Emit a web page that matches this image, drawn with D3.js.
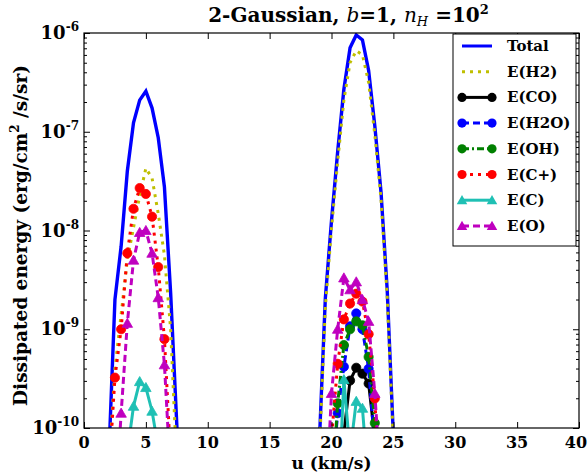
<!DOCTYPE html>
<html>
<head>
<meta charset="utf-8">
<script src="https://cdn.jsdelivr.net/npm/d3@7"></script>
<style>
  body { margin: 0; background: #fff; }
  svg text { font-family: "DejaVu Serif", serif; font-weight: bold; fill: #000; }
</style>
</head>
<body>
<div id="graphicContainer"></div>
<script>

// u grid (km/s) around the two velocity components
const uLeft  = [1.5, 2, 2.5, 3, 3.5, 4, 4.5, 5, 5.5, 6, 6.5, 7, 7.5, 8, 8.5]
const uRight = [18, 18.5, 19, 19.5, 20, 20.5, 21, 21.5, 22, 22.5, 23, 23.5, 24, 24.5, 25, 25.5, 26]

// log10 of dissipated energy (erg/cm2/s/sr)
const totalLeft  = [-12, -10.31, -8.70, -8.16, -7.40, -6.91, -6.68, -6.59, -6.76, -7.06, -7.56, -8.63, -9.97, -11.5, -13]
const totalRight = [-13, -12, -10.2, -8.69, -7.90, -7.20, -6.57, -6.15, -6.02, -6.07, -6.38, -6.94, -7.61, -8.60, -10.08, -12, -13]

const h2Left  = [-12, -10.4, -9.4, -8.85, -8.3, -7.97, -7.65, -7.37, -7.47, -7.83, -8.25, -9.0, -10.4, -12, -13.5]
const h2Right = [-13.5, -12, -10.3, -8.78, -7.98, -7.3, -6.68, -6.3, -6.18, -6.22, -6.5, -7.03, -7.68, -8.67, -10.15, -12, -13.5]

const coRight  = [-16, -15, -14, -13, -12.2, -11.5, -10.05, -9.52, -9.39, -9.45, -9.55, -10.1, -11.2, -12.3, -13.4, -14.5, -15.5]
const h2oRight = [-15, -14, -13, -12, -10.6, -9.85, -9.38, -8.97, -8.84, -9.0, -9.4, -10.2, -11.5, -12.5, -13.5, -14.5, -15.5]
const ohRight  = [-15, -14, -13, -12, -10.7, -9.75, -9.16, -9.0, -8.92, -8.96, -9.28, -9.95, -11, -12, -13, -14, -15]

const cplusLeft  = [-12, -10.5, -9.49, -9.0, -8.23, -7.78, -7.57, -7.63, -7.86, -8.37, -9.10, -10.3, -11.5, -12.5, -13.5]
const cplusRight = [-15, -14, -13, -11, -10.1, -9.35, -8.9, -8.74, -8.64, -8.72, -9.05, -9.7, -11, -12, -13, -14, -15]

const cLeft  = [-14, -13.5, -13, -12, -10.25, -9.78, -9.53, -9.59, -9.83, -10.2, -11, -12, -13, -14, -15]
const cRight = [-16, -15, -14, -13, -12, -10.9, -9.51, -10.25, -9.73, -9.8, -10.6, -11.5, -12.5, -13.5, -14.5, -15.5, -16]

const oLeft  = [-13, -12, -10.9, -9.85, -8.94, -8.30, -8.02, -8.0, -8.23, -8.68, -9.36, -10.5, -11.6, -12.6, -13.6]
const oRight = [-15, -14, -13, -10.9, -9.65, -9.0, -8.48, -8.6, -8.52, -8.7, -8.92, -9.65, -10.6, -11.6, -12.6, -13.6, -14.6]

const xTicks = [0, 5, 10, 15, 20, 25, 30, 35, 40]
const yDecades = [-10, -9, -8, -7, -6]

const series = [
  { name: "Total",  left: totalLeft, right: totalRight, color: "#0000ff", dash: null,      marker: null },
  { name: "E(H2)",  left: h2Left,    right: h2Right,    color: "#bfbf00", dash: "3,5",     marker: null },
  { name: "E(CO)",  left: null,      right: coRight,    color: "#000000", dash: null,      marker: "circle" },
  { name: "E(H2O)", left: null,      right: h2oRight,   color: "#0000ff", dash: "7,4",     marker: "circle" },
  { name: "E(OH)",  left: null,      right: ohRight,    color: "#008000", dash: "7,3,2,3", marker: "circle" },
  { name: "E(C+)",  left: cplusLeft, right: cplusRight, color: "#ff0000", dash: "3,5",     marker: "circle" },
  { name: "E(C)",   left: cLeft,     right: cRight,     color: "#1fc0b4", dash: null,      marker: "triangle" },
  { name: "E(O)",   left: oLeft,     right: oRight,     color: "#bf00bf", dash: "7,4",     marker: "triangle" }
]

const width = 588, height = 474
const margin = { left: 84, right: 9, top: 33, bottom: 46 }

const svg = d3.select("#graphicContainer")
  .append("svg")
  .attr("width", width)
  .attr("height", height)

const x = d3.scaleLinear().domain([0, 40]).range([margin.left, width - margin.right])
const y = d3.scaleLog().domain([1e-10, 1e-6]).range([height - margin.bottom, margin.top])

svg.append("defs").append("clipPath").attr("id", "plotClip")
  .append("rect")
  .attr("x", x(0)).attr("y", y(1e-6))
  .attr("width", x(40) - x(0)).attr("height", y(1e-10) - y(1e-6))

const plot = svg.append("g").attr("clip-path", "url(#plotClip)")

const line = d3.line().x(d => x(d.u)).y(d => y(d.v))

const triangle = d3.symbol().type(d3.symbolTriangle).size(48)

function drawMarkers(g, s, pts) {
  if (s.marker == "circle") {
    g.selectAll(null).data(pts).enter().append("circle")
      .attr("cx", d => x(d.u)).attr("cy", d => y(d.v)).attr("r", 4.6)
      .attr("fill", s.color).attr("stroke", s.color).attr("stroke-width", 0.8)
  } else if (s.marker == "triangle") {
    g.selectAll(null).data(pts).enter().append("path")
      .attr("d", triangle)
      .attr("transform", d => `translate(${x(d.u)},${y(d.v) + 1})`)
      .attr("fill", s.color).attr("stroke", s.color).attr("stroke-width", 0.8)
  }
}

series.forEach(s => {
  const segs = []
  if (s.left) segs.push(uLeft.map((u, i) => ({ u: u, v: Math.pow(10, s.left[i]) })))
  if (s.right) segs.push(uRight.map((u, i) => ({ u: u, v: Math.pow(10, s.right[i]) })))
  const g = plot.append("g")
  segs.forEach(pts => {
    g.append("path")
      .datum(pts)
      .attr("d", line)
      .attr("fill", "none")
      .attr("stroke", s.color)
      .attr("stroke-width", s.name == "Total" ? 3.4 : 3)
      .attr("stroke-dasharray", s.dash)
    drawMarkers(g, s, pts)
  })
})

// axes with inward ticks
const minorY = []
yDecades.slice(0, -1).forEach(e => {
  for (let k = 2; k < 10; k++) minorY.push(k * Math.pow(10, e))
})
const majorY = yDecades.map(e => Math.pow(10, e))

svg.append("g")
  .attr("transform", `translate(0,${y(1e-10)})`)
  .call(d3.axisBottom(x).tickValues(xTicks).tickSize(-6).tickSizeOuter(0).tickFormat(""))
svg.append("g")
  .attr("transform", `translate(0,${y(1e-6)})`)
  .call(d3.axisTop(x).tickValues(xTicks).tickSize(-6).tickSizeOuter(0).tickFormat(""))
svg.append("g")
  .attr("transform", `translate(${x(0)},0)`)
  .call(d3.axisLeft(y).tickValues(majorY).tickSize(-6).tickSizeOuter(0).tickFormat(""))
svg.append("g")
  .attr("transform", `translate(${x(0)},0)`)
  .call(d3.axisLeft(y).tickValues(minorY).tickSize(-3).tickSizeOuter(0).tickFormat(""))
svg.append("g")
  .attr("transform", `translate(${x(40)},0)`)
  .call(d3.axisRight(y).tickValues(majorY).tickSize(-6).tickSizeOuter(0).tickFormat(""))
svg.append("g")
  .attr("transform", `translate(${x(40)},0)`)
  .call(d3.axisRight(y).tickValues(minorY).tickSize(-3).tickSizeOuter(0).tickFormat(""))
svg.selectAll(".domain").remove()
svg.selectAll(".tick line").attr("stroke", "#000").attr("stroke-width", 1)

svg.append("rect")
  .attr("x", x(0)).attr("y", y(1e-6))
  .attr("width", x(40) - x(0)).attr("height", y(1e-10) - y(1e-6))
  .attr("fill", "none").attr("stroke", "#000").attr("stroke-width", 1.2)

// tick labels
svg.selectAll(".xLabel")
  .data(xTicks)
  .enter()
  .append("text")
  .attr("x", d => Math.min(x(d), 576))
  .attr("y", y(1e-10) + 20)
  .attr("text-anchor", "middle")
  .style("font-size", "16px")
  .text(d => d)

yDecades.forEach(e => {
  const t = svg.append("text")
    .attr("x", x(0) - 5)
    .attr("y", y(Math.pow(10, e)) + 6)
    .attr("text-anchor", "end")
    .style("font-size", "18px")
  t.append("tspan").text("10")
  t.append("tspan").attr("dy", -8).style("font-size", "12px").text(e)
})

// axis titles
svg.append("text")
  .attr("x", (x(0) + x(40)) / 2)
  .attr("y", 469)
  .attr("text-anchor", "middle")
  .style("font-size", "17px")
  .text("u (km/s)")

const yl = svg.append("text")
  .attr("transform", `translate(27,${(y(1e-6) + y(1e-10)) / 2 + 5}) rotate(-90)`)
  .attr("text-anchor", "middle")
  .style("font-size", "18.5px")
yl.append("tspan").text("Dissipated energy (erg/cm")
yl.append("tspan").attr("dy", -8).style("font-size", "12px").text("2")
yl.append("tspan").attr("dy", 8).text(" /s/sr)")

// title
const title = svg.append("text")
  .attr("x", (x(0) + x(40)) / 2 + 17)
  .attr("y", 22)
  .attr("text-anchor", "middle")
  .style("font-size", "20px")
title.append("tspan").text("2-Gaussian, ")
title.append("tspan").style("font-style", "italic").style("font-weight", "normal").text("b")
title.append("tspan").text("=1, ")
title.append("tspan").style("font-style", "italic").style("font-weight", "normal").text("n")
title.append("tspan").attr("dy", 4).style("font-size", "13px").style("font-style", "italic").style("font-weight", "normal").text("H")
title.append("tspan").attr("dy", -4).text(" =10")
title.append("tspan").attr("dy", -8).style("font-size", "13px").text("2")

// legend
const legend = svg.append("g").attr("transform", "translate(453,34)")
legend.append("rect")
  .attr("width", 123).attr("height", 212)
  .attr("fill", "#fff").attr("stroke", "#000").attr("stroke-width", 1)

series.forEach((s, i) => {
  const row = legend.append("g").attr("transform", `translate(0,${12 + i * 25.7})`)
  row.append("line")
    .attr("x1", 9).attr("x2", 39).attr("y1", 0).attr("y2", 0)
    .attr("stroke", s.color).attr("stroke-width", 3)
    .attr("stroke-dasharray", s.dash)
  if (s.marker == "circle") {
    row.selectAll(null).data([9, 39]).enter().append("circle")
      .attr("cx", d => d).attr("cy", 0).attr("r", 4.6).attr("fill", s.color)
  } else if (s.marker == "triangle") {
    row.selectAll(null).data([9, 39]).enter().append("path")
      .attr("d", triangle).attr("transform", d => `translate(${d},1)`).attr("fill", s.color)
  }
  row.append("text")
    .attr("x", 54).attr("y", 5)
    .style("font-size", "15px")
    .text(s.name)
})

</script>
</body>
</html>
